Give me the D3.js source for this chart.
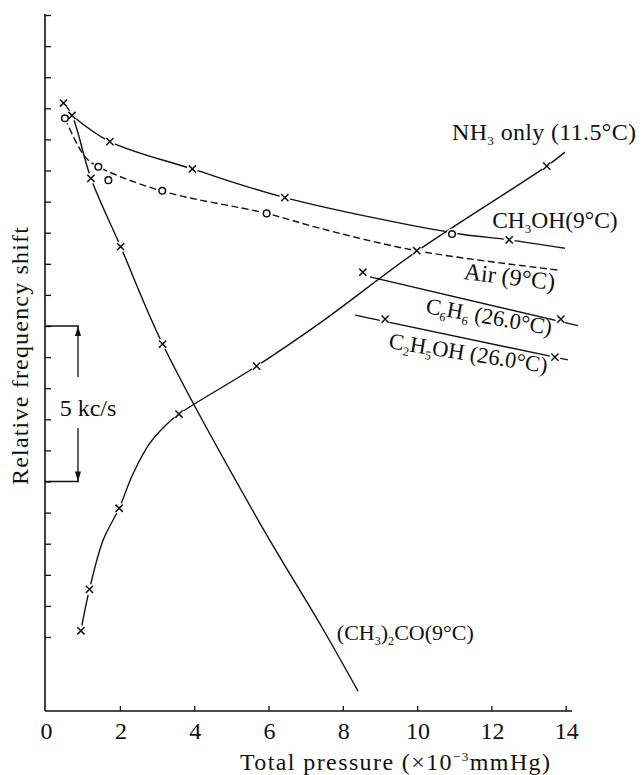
<!DOCTYPE html>
<html>
<head>
<meta charset="utf-8">
<script src="https://cdn.jsdelivr.net/npm/d3@7"></script>
<style>
  body { margin: 0; background: #fff; }
  text { font-family: "Liberation Serif", "DejaVu Serif", serif; fill: #111; }
  .curve { fill: none; stroke: #111; stroke-width: 1.4; }
  .mark { fill: none; stroke: #111; stroke-width: 1.5; }
</style>
</head>
<body>
<div id="vis"></div>
<script>
var width = 642, height = 775;

// x: total pressure (x10^-3 mmHg), y: relative frequency shift (kc/s, arbitrary zero)
var xTicks = [0, 2, 4, 6, 8, 10, 12, 14];
var yTicks = d3.range(0, 21);

var acetoneCurve = [[0.48,17.17],[0.71,16.78],[1.22,14.75],[2.02,12.55],[3.15,9.42],[5.72,3.76],[7.43,0.33],[8.41,-1.74]];
var acetonePts   = [[0.48,17.17],[1.22,14.75],[2.02,12.55],[3.15,9.42]];

var methanolCurve = [[0.71,16.77],[1.73,15.93],[3.95,15.05],[6.44,14.13],[10.94,13.0],[12.48,12.77],[13.98,12.50]];
var methanolPts   = [[0.71,16.77],[1.73,15.93],[3.95,15.05],[6.44,14.13],[12.48,12.77]];

var airCurve = [[0.52,16.68],[1.06,15.44],[1.42,15.12],[3.13,14.34],[5.95,13.62],[7.39,13.14],[9.99,12.42],[13.79,11.80]];
var airPts   = [[0.52,16.68],[1.42,15.12],[1.69,14.69],[3.14,14.35],[5.95,13.62],[10.94,12.96]];

var nh3Curve = [[0.95,0.20],[1.18,1.53],[1.55,3.12],[1.98,4.14],[2.35,5.24],[2.81,6.24],[3.24,6.82],[3.59,7.17],[5.68,8.71],[7.39,10.10],[9.99,12.40],[13.49,15.14],[13.98,15.59]];
var nh3Pts   = [[0.95,0.20],[1.18,1.53],[1.98,4.14],[3.59,7.17],[5.68,8.71],[9.99,12.42],[13.49,15.14]];

var benzeneCurve = [[8.73,11.58],[14.33,10.01]];
var benzenePts   = [[8.54,11.73],[13.87,10.22]];

var ethanolCurve = [[8.33,10.35],[14.06,8.91]];
var ethanolPts   = [[9.14,10.22],[13.71,9.00]];

var scaleBar = [5, 10];   // 5 kc/s

var x = d3.scaleLinear().domain([0, 14]).range([45.6, 565.7]);
var y = d3.scaleLinear().domain([0, 20]).range([637, 15]);
var axisY = 711;

var svg = d3.select("#vis").append("svg")
    .attr("width", width)
    .attr("height", height);

// draws text with _3 subscripts and ^{..} superscripts
function richText(t, str, size) {
  var re = /_(\d)|\^\{([^}]*)\}/g, last = 0, m, shift = 0;
  function plain(s) {
    if (!s) return;
    t.append("tspan").attr("dy", -shift).text(s);
    shift = 0;
  }
  while ((m = re.exec(str)) !== null) {
    plain(str.slice(last, m.index));
    if (m[1]) {
      t.append("tspan").attr("dy", 5 - shift).attr("font-size", size * 0.55).text(m[1]);
      shift = 5;
    } else {
      t.append("tspan").attr("dy", -9 - shift).attr("font-size", size * 0.55).text(m[2]);
      shift = -9;
    }
    last = re.lastIndex;
  }
  plain(str.slice(last));
}

////////// axes //////////

svg.append("line")
    .attr("x1", 45).attr("x2", 45)
    .attr("y1", axisY).attr("y2", 14)
    .attr("stroke", "#111").attr("stroke-width", 1.6);

svg.append("line")
    .attr("x1", 45).attr("x2", 572)
    .attr("y1", axisY).attr("y2", axisY)
    .attr("stroke", "#111").attr("stroke-width", 1.6);

svg.append("g")
    .attr("transform", "translate(45,0)")
    .call(d3.axisLeft(y).tickValues(yTicks).tickSize(-6).tickFormat(""))
    .call(function(g) { g.select(".domain").remove(); })
    .selectAll("line").attr("stroke", "#111").attr("stroke-width", 1.3);

var xAxis = svg.append("g")
    .attr("transform", "translate(0," + axisY + ")")
    .call(d3.axisBottom(x).tickValues(xTicks.slice(1)).tickSize(-5).tickFormat(""))
    .call(function(g) { g.select(".domain").remove(); });
xAxis.selectAll("line").attr("stroke", "#111").attr("stroke-width", 1.3);

svg.append("g").selectAll("text")
    .data(xTicks)
    .enter()
    .append("text")
    .attr("x", function(d) { return x(d) + 1; })
    .attr("y", axisY + 28)
    .attr("text-anchor", "middle")
    .attr("font-size", 24)
    .text(function(d) { return d; });

var xTitle = svg.append("text")
    .attr("x", 240)
    .attr("y", 770)
    .attr("font-size", 24)
    .attr("textLength", 310)
    .attr("lengthAdjust", "spacing");
richText(xTitle, "Total pressure (×10^{−3}mmHg)", 24);

svg.append("text")
    .attr("transform", "translate(28,356) rotate(-90)")
    .attr("text-anchor", "middle")
    .attr("font-size", 24)
    .attr("textLength", 258)
    .attr("lengthAdjust", "spacing")
    .text("Relative frequency shift");

////////// 5 kc/s scale bar //////////

var barX = 78;
var bar = svg.append("g").attr("stroke", "#111").attr("stroke-width", 1.3);
scaleBar.forEach(function(v) {
  bar.append("line").attr("x1", 45).attr("x2", barX + 1).attr("y1", y(v)).attr("y2", y(v));
});
bar.append("line").attr("x1", barX).attr("x2", barX).attr("y1", y(scaleBar[1])).attr("y2", 377);
bar.append("line").attr("x1", barX).attr("x2", barX).attr("y1", 428).attr("y2", y(scaleBar[0]));
svg.append("path")
    .attr("d", "M" + barX + "," + y(scaleBar[1]) + "l-3,10h6z" +
               "M" + barX + "," + y(scaleBar[0]) + "l-3,-10h6z")
    .attr("fill", "#111");
svg.append("text")
    .attr("x", 88).attr("y", 416)
    .attr("text-anchor", "middle")
    .attr("font-size", 24)
    .text("5 kc/s");

////////// curves //////////

var line = d3.line()
    .x(function(d) { return x(d[0]); })
    .y(function(d) { return y(d[1]); })
    .curve(d3.curveCatmullRom.alpha(0.5));

var curves = [
  {pts: acetoneCurve, dash: null, w: 1.5},
  {pts: methanolCurve, dash: null, w: 1.5},
  {pts: airCurve, dash: "7,3.5", w: 1.5},
  {pts: nh3Curve, dash: null, w: 1.5},
  {pts: benzeneCurve, dash: null, w: 1.9},
  {pts: ethanolCurve, dash: null, w: 1.7}
];

svg.append("g").selectAll("path")
    .data(curves)
    .enter()
    .append("path")
    .attr("class", "curve")
    .attr("stroke-width", function(d) { return d.w; })
    .attr("stroke-dasharray", function(d) { return d.dash; })
    .attr("d", function(d) { return line(d.pts); });

////////// markers //////////

var crosses = [].concat(acetonePts, methanolPts, nh3Pts, benzenePts, ethanolPts);
var circles = airPts;
var all = crosses.concat(circles);

// white halo so the lines break at each point, as in the original
svg.append("g").selectAll("circle")
    .data(all)
    .enter()
    .append("circle")
    .attr("cx", function(d) { return x(d[0]); })
    .attr("cy", function(d) { return y(d[1]); })
    .attr("r", 5.5)
    .attr("fill", "#fff");

svg.append("g").selectAll("path")
    .data(crosses)
    .enter()
    .append("path")
    .attr("class", "mark")
    .attr("d", function(d) {
      var cx = x(d[0]), cy = y(d[1]), s = 3.6;
      return "M" + (cx - s) + "," + (cy - s) + "L" + (cx + s) + "," + (cy + s) +
             "M" + (cx - s) + "," + (cy + s) + "L" + (cx + s) + "," + (cy - s);
    });

svg.append("g").selectAll("circle")
    .data(circles)
    .enter()
    .append("circle")
    .attr("class", "mark")
    .attr("cx", function(d) { return x(d[0]); })
    .attr("cy", function(d) { return y(d[1]); })
    .attr("r", 3.3);

////////// labels //////////

var labels = [
  {text: "NH_3 only (11.5°C)", at: [10.94, 15.98], rot: 0, size: 24, len: 184},
  {text: "CH_3OH(9°C)", at: [12.02, 13.15], rot: 0, size: 23.5},
  {text: "Air (9°C)", at: [11.24, 11.51], rot: 7, size: 24},
  {text: "C_6H_6 (26.0°C)", at: [10.21, 10.42], rot: 10, size: 22.5},
  {text: "C_2H_5OH (26.0°C)", at: [9.22, 9.29], rot: 9, size: 22.5},
  {text: "(CH_3)_2CO(9°C)", at: [7.84, -0.10], rot: 0, size: 22}
];

labels.forEach(function(l) {
  var t = svg.append("text")
      .attr("transform", "translate(" + x(l.at[0]) + "," + y(l.at[1]) + ") rotate(" + l.rot + ")")
      .attr("font-size", l.size);
  if (l.len) t.attr("textLength", l.len).attr("lengthAdjust", "spacing");
  richText(t, l.text, l.size);
});
</script>
</body>
</html>
